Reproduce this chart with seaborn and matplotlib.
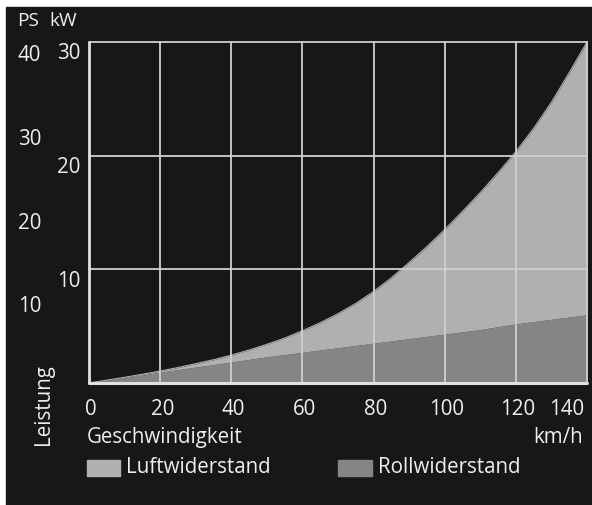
import matplotlib
matplotlib.use("Agg")
import matplotlib.pyplot as plt
import matplotlib.patches as mpatches
import numpy as np
import pandas as pd
import seaborn as sns

# Werte (kW bei km/h)
geschw = [0, 5, 10, 15, 20, 25, 30, 35, 40, 45, 50, 55, 60, 65, 70,
          75, 80, 85, 90, 95, 100, 105, 110, 115, 120, 125, 130, 135, 140]
roll = [0, 0.22, 0.45, 0.7, 0.95, 1.17, 1.4, 1.62, 1.85, 2.07, 2.3, 2.5, 2.7, 2.9, 3.1,
        3.3, 3.5, 3.7, 3.9, 4.1, 4.3, 4.5, 4.7, 4.95, 5.2, 5.4, 5.6, 5.8, 6.0]
gesamt = [0, 0.25, 0.5, 0.77, 1.05, 1.36, 1.7, 2.05, 2.45, 2.9, 3.4, 3.95, 4.6, 5.3, 6.1,
          7.0, 8.05, 9.25, 10.6, 12.0, 13.5, 15.1, 16.75, 18.5, 20.35, 22.4, 24.7, 27.3, 30.0]
x_ticks = [0, 20, 40, 60, 80, 100, 120, 140]
kw_ticks = [10, 20, 30]
ps_ticks = [10, 20, 30, 40]

bg = "#171717"
hell = "#b0b0b0"
dunkel = "#858585"
gitter = "#d0d0d0"

sns.set_theme(style="dark")
plt.rcParams["font.family"] = ["Open Sans", "DejaVu Sans"]

df = pd.DataFrame({"v": geschw, "roll": roll, "gesamt": gesamt})

fig = plt.figure(figsize=(5.92, 5.06), dpi=100, facecolor="white")
bg_rect = mpatches.Rectangle((6 / 592, 0), 1, 1 - 8 / 506,
                             transform=fig.transFigure, color=bg, zorder=-10)
fig.patches.append(bg_rect)
ax = fig.add_axes([89 / 592, 1 - 384 / 506, 498 / 592, 341 / 506])
ax.set_facecolor(bg)
ax.set_zorder(1)

ax.fill_between(df["v"], 0, df["roll"], color=dunkel, lw=0, zorder=1)
ax.fill_between(df["v"], df["roll"], df["gesamt"], color=hell, lw=0, zorder=1)
sns.lineplot(data=df, x="v", y="gesamt", color=hell, lw=0.8, ax=ax, zorder=1)

for xv in x_ticks[1:]:
    ax.axvline(xv, color=gitter, lw=1.3, zorder=3, clip_on=False)
for yv in kw_ticks:
    ax.axhline(yv, color=gitter, lw=1.3, zorder=3, clip_on=False)
ax.axvline(0, color="#e0e0e0", lw=2, zorder=4, clip_on=False)
ax.axhline(0, color="#e0e0e0", lw=2.2, zorder=4, clip_on=False)

ax.set_xlim(0, 140)
ax.set_ylim(0, 30)
ax.set_xticks([])
ax.set_yticks([])
ax.set_xlabel("")
ax.set_ylabel("")
for s in ax.spines.values():
    s.set_visible(False)

fs = 14.8
col = "#eeeeee"
for xv in x_ticks[:-1]:
    ax.text(xv + 0.6, -2.2, str(xv), ha="center", va="center", color=col, fontsize=fs)
ax.text(x_ticks[-1] - 0.8, -2.2, str(x_ticks[-1]), ha="right", va="center",
        color=col, fontsize=fs)
for yv in kw_ticks:
    ax.text(-2.4, yv - 0.95, str(yv), ha="right", va="center", color=col, fontsize=fs)
for pv in ps_ticks:
    ax.text(-13.4, pv / 1.36 - 0.55, str(pv), ha="right", va="center", color=col, fontsize=fs)

fig.text(17 / 592, 1 - 21 / 506, "PS", color=col, fontsize=fs - 1, va="center")
fig.text(49 / 592, 1 - 21 / 506, "kW", color=col, fontsize=fs - 1, va="center")
fig.text(44 / 592, 1 - 405 / 506, "Leistung", color=col, fontsize=fs, rotation=90,
         ha="center", va="center")
fig.text(87 / 592, 1 - 438 / 506, "Geschwindigkeit", color=col, fontsize=fs, va="center")
fig.text(583 / 592, 1 - 438 / 506, "km/h", color=col, fontsize=fs, va="center", ha="right")

fig.patches.append(mpatches.Rectangle((87 / 592, 1 - 477 / 506), 33 / 592, 16 / 506,
                                      transform=fig.transFigure, color=hell))
fig.text(126 / 592, 1 - 468 / 506, "Luftwiderstand", color=col, fontsize=fs, va="center")
fig.patches.append(mpatches.Rectangle((338 / 592, 1 - 477 / 506), 34 / 592, 16 / 506,
                                      transform=fig.transFigure, color=dunkel))
fig.text(378 / 592, 1 - 468 / 506, "Rollwiderstand", color=col, fontsize=fs, va="center")

fig.savefig("out.png", dpi=100, facecolor="white")
